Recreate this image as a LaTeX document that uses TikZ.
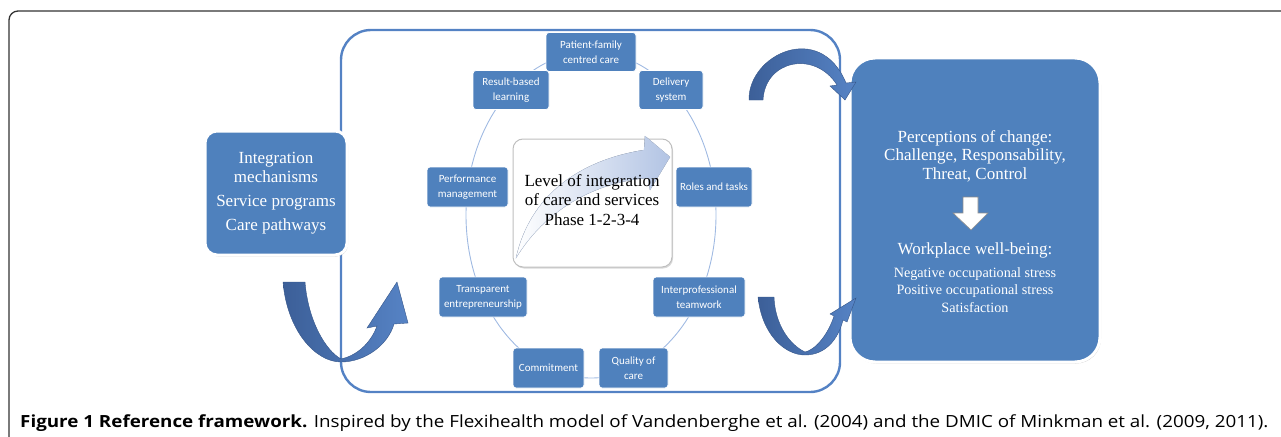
\documentclass[tikz,border=0pt]{standalone}
\usepackage{fontspec}
\setmainfont{Liberation Serif}
\newfontfamily\carl{Carlito}
\newfontfamily\capfont{Open Sans}
\usetikzlibrary{shadows}
\definecolor{boxblue}{RGB}{79,129,189}
\definecolor{framecol}{RGB}{84,130,196}
\definecolor{ellcol}{RGB}{160,186,226}
\definecolor{arrdark}{RGB}{60,95,152}
\definecolor{arrlight}{RGB}{86,131,197}
\definecolor{ctrarr}{RGB}{178,196,228}
\definecolor{framegray}{RGB}{50,50,50}
\begin{document}
\begin{tikzpicture}[x=1pt,y=-1pt,
  sbox/.style={draw=white, line width=0.8pt, fill=boxblue, rounded corners=3pt, text=white,
    font=\carl\fontsize{11}{15}\selectfont, align=center, inner sep=0pt, minimum height=40pt},
  bigbox/.style={draw=white, line width=3pt, fill=boxblue, text=white, align=center, inner sep=0pt,
    drop shadow={shadow xshift=1pt, shadow yshift=-1.5pt, opacity=0.35, fill=black!60}},
  whitetext/.style={text=white, align=center, inner sep=0pt},
  curvarr/.style={left color=arrdark, right color=arrlight, draw=arrdark!90!black, line width=0.4pt},
  ctrtext/.style={align=center, inner sep=0pt, font=\fontsize{17}{19}\selectfont}
]
\useasboundingbox (0,0) rectangle (1281,436);
% outer figure frame
\draw[framegray, line width=1.3pt, rounded corners=9pt] (9,450) -- (9,11) -- (1300,11);
% big frame
\draw[framecol, line width=2.4pt, rounded corners=30pt] (341,30) rectangle (840,392);
% ellipse
\draw[ellcol, line width=0.9pt] (591,215) ellipse [x radius=125, y radius=163];
% center box
\node[draw=black!25, line width=1pt, fill=white, rounded corners=10pt, minimum width=159pt, minimum height=128pt,
  drop shadow={shadow xshift=1pt, shadow yshift=-1.5pt, opacity=0.3, fill=black!50}] (ctr) at (592.5,203) {};
\fill[left color=white, right color=ctrarr, draw=ctrarr!80, line width=0.3pt]
  (516,258) .. controls (530,195) and (580,160) .. (644,150) -- (645,136) -- (670,157) -- (650,190)
  -- (648,178) .. controls (595,182) and (545,210) .. (516,258) -- cycle;
\node[ctrtext] (lvl) at (592,190) {Level of integration\\of care and services};
\node[ctrtext] (ph) at (592,220) {Phase 1-2-3-4};
% small boxes
\node[sbox, minimum width=90pt, minimum height=39pt] (pfc) at (591,52) {Patient-family\\centred care};
\node[sbox, minimum width=76pt, minimum height=39pt] (rbl) at (511,90) {Result-based\\learning};
\node[sbox, minimum width=64pt, minimum height=39pt] (del) at (671,90) {Delivery\\system};
\node[sbox, minimum width=81pt] (perf) at (467.5,187) {Performance\\management};
\node[sbox, minimum width=76pt] (rol) at (714,187) {Roles and tasks};
\node[sbox, minimum width=88pt] (tra) at (483,297) {Transparent\\entrepreneurship};
\node[sbox, minimum width=92pt] (ipt) at (699,297) {Interprofessional\\teamwork};
\node[sbox, minimum width=71pt] (com) at (548.5,368) {Commitment};
\node[sbox, minimum width=69pt] (qoc) at (633.5,368) {Quality of\\care};
% left box
\node[bigbox, rounded corners=12pt, minimum width=142pt, minimum height=124pt,
  font=\fontsize{17}{19}\selectfont] (mech) at (276,193)
  {Integration\\mechanisms\\[5pt]Service programs\\[5pt]Care pathways};
% right box
\node[bigbox, rounded corners=25pt, minimum width=250pt, minimum height=304pt] (out) at (975,210) {};
\node[whitetext, font=\fontsize{17}{18.5}\selectfont] (perc) at (975,156)
  {Perceptions of change:\\Challenge, Responsability,\\Threat, Control};
\node[whitetext, font=\fontsize{17}{19}\selectfont] (wb) at (975,250) {Workplace well-being:};
\node[whitetext, font=\fontsize{14.2}{17.5}\selectfont] (wbl) at (975,290)
  {Negative occupational stress\\Positive occupational stress\\Satisfaction};
% white down arrow
\draw[fill=white, draw=black!45, line width=0.6pt]
  (963,197) -- (978,197) -- (978,213) -- (988,213) -- (971,230) -- (953,213) -- (963,213) -- cycle;
% curved arrows
\draw[curvarr]
  (283,282) .. controls (287,330) and (315,362) .. (341,362) .. controls (365,362) and (388,345) .. (394,324)
  -- (408,323) -- (397,282) -- (367,328) -- (377,326)
  .. controls (370,345) and (355,356) .. (341,359) .. controls (325,350) and (308,320) .. (305,282) -- cycle;
\draw[curvarr]
  (749,100) .. controls (748,55) and (820,20) .. (846,83) -- (856,82) -- (845,100) -- (830,86) -- (837,85)
  .. controls (815,50) and (765,60) .. (763,100) -- cycle;
\draw[curvarr]
  (758,297) .. controls (762,335) and (785,355) .. (805,355) .. controls (825,355) and (838,340) .. (843,320)
  -- (847,322) -- (856,298) -- (830,314) -- (834,316)
  .. controls (828,335) and (815,350) .. (805,352) .. controls (790,345) and (775,325) .. (774,297) -- cycle;
% caption
\node[anchor=base west, inner sep=0pt] (cap) at (20,427)
  {\resizebox{1248pt}{12.8pt}{\capfont\textbf{Figure 1 Reference framework.} Inspired by the Flexihealth model of Vandenberghe et al. (2004) and the DMIC of Minkman et al. (2009, 2011).}};
\end{tikzpicture}
\end{document}
